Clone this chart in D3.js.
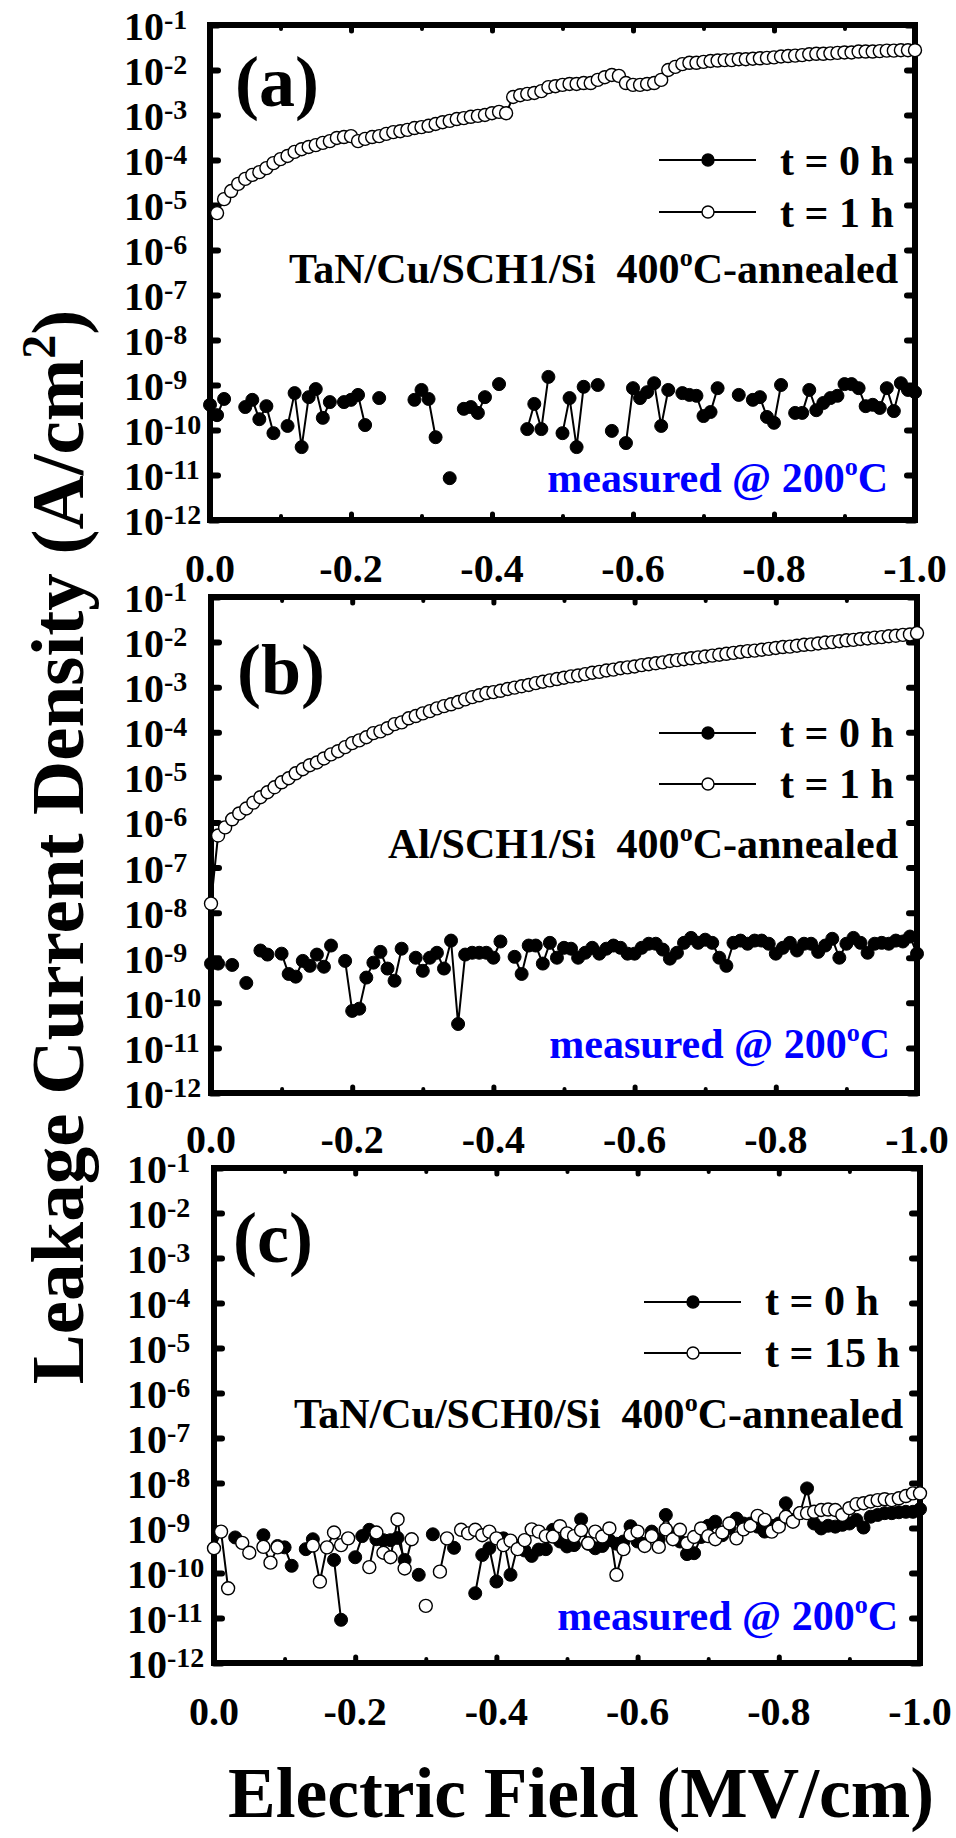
<!DOCTYPE html>
<html>
<head>
<meta charset="utf-8">
<script src="https://cdn.jsdelivr.net/npm/d3@7"></script>
<style>
  html, body { margin: 0; padding: 0; background: #fff; }
  svg { display: block; font-family: "Liberation Serif", "Times New Roman", Times, serif; font-weight: bold; }
</style>
</head>
<body>
<svg id="chart" width="956" height="1838"></svg>
<script>
// ---- Axis ticks ----
const fieldMajorTicks = [0, -0.2, -0.4, -0.6, -0.8, -1.0];
const fieldMajorLabels = ["0.0", "-0.2", "-0.4", "-0.6", "-0.8", "-1.0"];
const fieldMinorTicks = [-0.1, -0.3, -0.5, -0.7, -0.9];
const decadeExponents = [-12, -11, -10, -9, -8, -7, -6, -5, -4, -3, -2, -1];

// ---- Electric field sweep (MV/cm), 0.01 MV/cm steps from 0 to -1.0 ----
const field = d3.range(0, 101).map(i => -i / 100);

// ---- log10 of leakage current density (A/cm^2); null = no reading ----
// (a) TaN/Cu/SCH1/Si, t = 0 h
const a_t0 = [-9.44,-9.67,-9.31,null,null,-9.49,-9.33,-9.76,-9.47,-10.07,
  null,-9.91,-9.18,-10.38,-9.27,-9.09,-9.73,-9.38,null,-9.38,
  -9.33,-9.22,-9.89,null,-9.29,null,null,null,null,-9.33,
  -9.11,-9.31,-10.16,null,-11.07,null,-9.53,-9.49,-9.62,-9.27,
  null,-8.98,null,null,null,-9.98,-9.42,-9.98,-8.82,null,
  -10.07,-9.29,-10.38,-9.04,null,-9.00,null,-10.02,null,-10.29,
  -9.07,-9.29,-9.16,-8.96,-9.91,-9.11,null,-9.18,-9.22,-9.24,
  -9.69,-9.60,-9.07,null,null,-9.22,null,-9.33,-9.27,-9.71,
  -9.84,-9.00,null,-9.62,-9.62,-9.11,-9.56,-9.40,-9.29,-9.24,
  -8.98,-8.98,-9.07,-9.47,-9.44,-9.51,-9.07,-9.58,-8.96,-9.11,
  -9.16];
// (a) TaN/Cu/SCH1/Si, t = 1 h
const a_t1 = [null,-5.18,-4.87,-4.69,-4.53,-4.42,-4.33,-4.27,-4.18,-4.07,
  -3.98,-3.91,-3.82,-3.76,-3.71,-3.67,-3.62,-3.58,-3.51,-3.49,
  -3.47,-3.58,-3.53,-3.49,-3.47,-3.42,-3.38,-3.36,-3.33,-3.29,
  -3.27,-3.24,-3.20,-3.16,-3.13,-3.09,-3.07,-3.04,-3.02,-3.00,
  -2.96,-2.93,-2.96,-2.60,-2.56,-2.53,-2.51,-2.47,-2.38,-2.36,
  -2.33,-2.31,-2.31,-2.29,-2.29,-2.22,-2.16,-2.11,-2.13,-2.29,
  -2.33,-2.33,-2.31,-2.29,-2.22,-2.00,-1.93,-1.87,-1.84,-1.84,
  -1.82,-1.80,-1.79,-1.78,-1.78,-1.76,-1.76,-1.75,-1.74,-1.73,
  -1.72,-1.70,-1.69,-1.68,-1.67,-1.65,-1.64,-1.64,-1.63,-1.62,
  -1.61,-1.61,-1.59,-1.59,-1.59,-1.58,-1.57,-1.57,-1.56,-1.56,
  -1.56];
// (b) Al/SCH1/Si, t = 0 h
const b_t0 = [-9.13,-9.13,null,-9.16,null,-9.56,null,-8.84,-8.93,null,
  -8.91,-9.36,-9.42,-9.07,-9.18,-8.93,-9.20,-8.73,null,-9.07,
  -10.18,-10.13,-9.44,-9.11,-8.87,-9.24,-9.51,-8.80,null,-9.00,
  -9.29,-9.00,-8.89,-9.24,-8.62,-10.47,-8.93,-8.89,-8.89,-8.89,
  -9.00,-8.64,null,-8.98,-9.36,-8.73,-8.73,-9.13,-8.67,-9.00,
  -8.78,-8.80,-9.00,-8.89,-8.78,-8.91,-8.80,-8.73,-8.78,-8.91,
  -8.91,-8.78,-8.69,-8.69,-8.82,-9.02,-8.89,-8.67,-8.56,-8.67,
  -8.60,-8.67,-9.00,-9.18,-8.67,-8.62,-8.69,-8.62,-8.62,-8.69,
  -8.91,-8.78,-8.67,-8.84,-8.69,-8.69,-8.87,-8.73,-8.58,-9.00,
  -8.69,-8.56,-8.67,-8.89,-8.69,-8.67,-8.69,-8.62,-8.64,-8.53,
  -8.91];
// (b) Al/SCH1/Si, t = 1 h
const b_t1 = [-7.80,-6.29,-6.11,-5.93,-5.80,-5.69,-5.56,-5.44,-5.33,-5.22,
  -5.11,-5.02,-4.91,-4.82,-4.73,-4.67,-4.58,-4.49,-4.42,-4.33,
  -4.24,-4.18,-4.11,-4.02,-3.98,-3.91,-3.82,-3.78,-3.69,-3.64,
  -3.58,-3.53,-3.47,-3.42,-3.38,-3.33,-3.27,-3.22,-3.18,-3.13,
  -3.11,-3.08,-3.04,-3.01,-2.98,-2.95,-2.91,-2.88,-2.85,-2.82,
  -2.79,-2.76,-2.74,-2.71,-2.68,-2.66,-2.63,-2.61,-2.58,-2.56,
  -2.54,-2.51,-2.49,-2.47,-2.45,-2.42,-2.40,-2.38,-2.36,-2.34,
  -2.32,-2.30,-2.28,-2.26,-2.24,-2.22,-2.20,-2.19,-2.17,-2.15,
  -2.13,-2.11,-2.10,-2.08,-2.06,-2.05,-2.03,-2.01,-2.00,-1.98,
  -1.96,-1.95,-1.93,-1.92,-1.90,-1.89,-1.87,-1.86,-1.84,-1.83,
  -1.80];
// (c) TaN/Cu/SCH0/Si, t = 0 h
const c_t0 = [null,null,null,-9.21,null,null,null,-9.16,null,-9.40,
  -9.43,-9.84,null,-9.47,-9.25,null,null,-9.71,-11.04,null,
  -9.65,-9.18,-9.04,-9.25,-9.27,-9.27,-9.22,-9.71,null,-10.04,
  null,-9.14,null,null,-9.44,null,null,-10.45,-9.60,-9.45,
  -10.19,-9.23,-10.04,-9.40,-9.50,-9.62,-9.48,-9.47,-9.04,-9.30,
  -9.41,-9.38,-8.81,-9.35,-9.45,-9.40,-9.27,-9.35,-9.30,-8.96,
  -9.30,-9.35,-9.08,-9.25,-8.71,-9.15,-9.30,-9.58,-9.56,-9.20,
  -8.95,-8.86,-9.16,-9.00,-8.79,-8.90,-8.90,-8.97,-9.08,-8.95,
  -8.90,-8.45,-8.82,-8.67,-8.12,-8.90,-9.01,-8.95,-8.97,-8.93,
  -8.90,-8.82,-8.99,-8.75,-8.71,-8.67,-8.67,-8.65,-8.64,-8.64,
  -8.58];
// (c) TaN/Cu/SCH0/Si, t = 15 h
const c_t15 = [-9.45,-9.08,-10.34,null,-9.33,-9.55,null,-9.42,-9.77,-9.43,
  null,null,null,null,-9.39,-10.19,-9.43,-9.10,-9.38,-9.23,
  null,null,-9.87,-9.10,-9.55,-9.65,-8.81,-9.90,-9.25,null,
  -10.73,null,-9.97,-9.23,null,-9.04,-9.12,-9.04,-9.16,-9.08,
  -9.23,-9.38,-9.28,-9.47,-9.27,-9.03,-9.08,-9.18,-9.19,-8.96,
  -9.12,-9.18,-9.05,-9.34,-9.08,-9.19,-9.01,-10.04,-9.47,-9.15,
  -9.08,-9.40,-9.18,-9.42,-9.03,-9.25,-9.04,-9.34,-9.20,-9.01,
  -9.18,-9.25,-9.10,-8.90,-9.23,-9.03,-8.95,-8.73,-8.82,-9.08,
  -8.97,-8.75,-8.86,-8.67,-8.67,-8.64,-8.60,-8.59,-8.60,-8.71,
  -8.56,-8.47,-8.45,-8.41,-8.38,-8.36,-8.38,-8.34,-8.29,-8.23,
  -8.23];

// ---- Texts ----
const legendLabelsAB = ["t = 0 h", "t = 1 h"];
const legendLabelsC = ["t = 0 h", "t = 15 h"];
const panelTags = ["(a)", "(b)", "(c)"];
const sampleNames = ["TaN/Cu/SCH1/Si", "Al/SCH1/Si", "TaN/Cu/SCH0/Si"];
const yTitle = "Leakage Current Density (A/cm";
const xTitle = "Electric Field (MV/cm)";

// ---- Panel geometry ----
const panels = [
  { series: [a_t0, a_t1], legend: legendLabelsAB, tag: panelTags[0], sample: sampleNames[0],
    left: 210, right: 915, top: 25, bottom: 520, yLabX: 124, xLabDy: 62,
    tagPos: [235, 106], leg: { x1: 659, x2: 756, xm: 708, y: [160, 212], tx: 780, ty: [175, 227] },
    samplePos: [898, 283], measPos: [888, 492] },
  { series: [b_t0, b_t1], legend: legendLabelsAB, tag: panelTags[1], sample: sampleNames[1],
    left: 211, right: 917, top: 597, bottom: 1093, yLabX: 124, xLabDy: 60,
    tagPos: [237, 694], leg: { x1: 659, x2: 756, xm: 708, y: [733, 784], tx: 780, ty: [747, 798] },
    samplePos: [898, 858], measPos: [890, 1058] },
  { series: [c_t0, c_t15], legend: legendLabelsC, tag: panelTags[2], sample: sampleNames[2],
    left: 214, right: 920, top: 1168, bottom: 1663, yLabX: 127, xLabDy: 62,
    tagPos: [233, 1262], leg: { x1: 644, x2: 741, xm: 693, y: [1302, 1353], tx: 765, ty: [1315, 1367] },
    samplePos: [903, 1428], measPos: [898, 1630] }
];

const svg = d3.select("#chart");
svg.append("rect").attr("width", 956).attr("height", 1838).attr("fill", "#fff");

// Text with a raised small "o" used as the degree mark
function degreeText(g, x, y, before, after, size, color) {
  const t = g.append("text").attr("x", x).attr("y", y)
    .attr("text-anchor", "end").attr("font-size", size).attr("fill", color);
  t.append("tspan").text(before);
  t.append("tspan").text("o").attr("font-size", size * 0.62).attr("dy", -size * 0.4);
  t.append("tspan").text(after).attr("dy", size * 0.4);
  return t;
}

function styleTicks(sel, width) {
  sel.select(".domain").remove();
  sel.selectAll("text").remove();
  sel.selectAll("line").attr("stroke", "#000").attr("stroke-width", width).attr("stroke-linecap", "round");
}

function drawSeries(g, x, y, vals, open) {
  const pts = field.map((e, i) => ({ e, j: vals[i] == null ? null : Math.pow(10, vals[i]) }));
  const line = d3.line().defined(d => d.j != null).x(d => x(d.e)).y(d => y(d.j));
  g.append("path").datum(pts).attr("d", line)
    .attr("fill", "none").attr("stroke", "#000").attr("stroke-width", 2);
  g.append("g").selectAll("circle").data(pts.filter(d => d.j != null)).join("circle")
    .attr("cx", d => x(d.e)).attr("cy", d => y(d.j)).attr("r", 6.5)
    .attr("fill", open ? "#fff" : "#000").attr("stroke", "#000").attr("stroke-width", open ? 1.4 : 1);
}

panels.forEach(p => {
  const x = d3.scaleLinear().domain([0, -1]).range([p.left, p.right]);
  const y = d3.scaleLog().domain([1e-12, 1e-1]).range([p.bottom, p.top]);
  const g = svg.append("g");
  const decades = decadeExponents.map(k => Math.pow(10, k));

  // inward ticks on all four sides
  g.append("g").attr("transform", `translate(0,${p.bottom})`)
    .call(d3.axisBottom(x).tickValues(fieldMajorTicks).tickSize(-6)).call(s => styleTicks(s, 5));
  g.append("g").attr("transform", `translate(0,${p.bottom})`)
    .call(d3.axisBottom(x).tickValues(fieldMinorTicks).tickSize(-4)).call(s => styleTicks(s, 4));
  g.append("g").attr("transform", `translate(0,${p.top})`)
    .call(d3.axisTop(x).tickValues(fieldMajorTicks).tickSize(-6)).call(s => styleTicks(s, 5));
  g.append("g").attr("transform", `translate(0,${p.top})`)
    .call(d3.axisTop(x).tickValues(fieldMinorTicks).tickSize(-4)).call(s => styleTicks(s, 4));
  g.append("g").attr("transform", `translate(${p.left},0)`)
    .call(d3.axisLeft(y).tickValues(decades).tickSize(-8)).call(s => styleTicks(s, 6));
  g.append("g").attr("transform", `translate(${p.right},0)`)
    .call(d3.axisRight(y).tickValues(decades).tickSize(-8)).call(s => styleTicks(s, 6));

  // frame
  g.append("rect").attr("x", p.left).attr("y", p.top)
    .attr("width", p.right - p.left).attr("height", p.bottom - p.top)
    .attr("fill", "none").attr("stroke", "#000").attr("stroke-width", 6);

  // x tick labels
  g.append("g").selectAll("text").data(fieldMajorTicks).join("text")
    .attr("x", d => x(d)).attr("y", p.bottom + p.xLabDy)
    .attr("text-anchor", "middle").attr("font-size", 40)
    .text((d, i) => fieldMajorLabels[i]);

  // y tick labels: 10 with superscript exponent
  const yl = g.append("g").selectAll("text").data(decadeExponents).join("text")
    .attr("x", p.yLabX).attr("y", k => y(Math.pow(10, k)) + 15).attr("font-size", 40);
  yl.append("tspan").text("10");
  yl.append("tspan").text(k => String(k)).attr("font-size", 28).attr("dy", -11);

  // data: t = 0 h (filled) then aged (open)
  drawSeries(g, x, y, p.series[0], false);
  drawSeries(g, x, y, p.series[1], true);

  // panel tag
  g.append("text").attr("x", p.tagPos[0]).attr("y", p.tagPos[1]).attr("font-size", 72).text(p.tag);

  // legend
  p.legend.forEach((lab, i) => {
    g.append("line").attr("x1", p.leg.x1).attr("x2", p.leg.x2).attr("y1", p.leg.y[i]).attr("y2", p.leg.y[i])
      .attr("stroke", "#000").attr("stroke-width", 2);
    g.append("circle").attr("cx", p.leg.xm).attr("cy", p.leg.y[i]).attr("r", 6)
      .attr("fill", i === 0 ? "#000" : "#fff").attr("stroke", "#000").attr("stroke-width", 1.4);
    g.append("text").attr("x", p.leg.tx).attr("y", p.leg.ty[i]).attr("font-size", 42).text(lab);
  });

  // sample description and measurement condition
  degreeText(g, p.samplePos[0], p.samplePos[1], p.sample + "\u00a0\u00a0400", "C-annealed", 42, "#000");
  degreeText(g, p.measPos[0], p.measPos[1], "measured @ 200", "C", 42, "#0000ff");
});

// axis titles
const yt = svg.append("text").attr("transform", "translate(83,847) rotate(-90)")
  .attr("text-anchor", "middle").attr("font-size", 75);
yt.append("tspan").text(yTitle);
yt.append("tspan").text("2").attr("font-size", 48).attr("dy", -28);
yt.append("tspan").text(")").attr("dy", 28);

// condensed bottom title
svg.append("text").attr("x", 228).attr("y", 1817)
  .attr("font-size", 72).attr("textLength", 706).attr("lengthAdjust", "spacingAndGlyphs")
  .text(xTitle);
</script>
</body>
</html>
